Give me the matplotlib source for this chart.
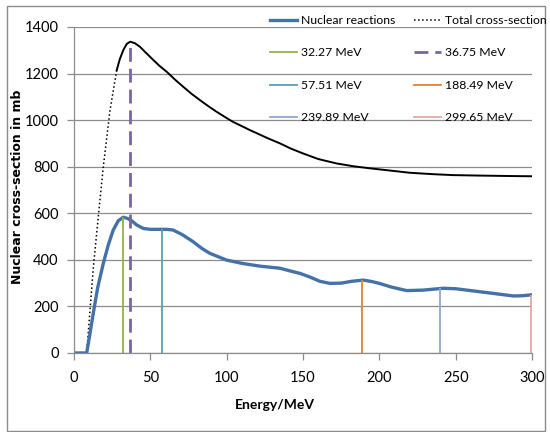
import matplotlib
matplotlib.use("Agg")
import matplotlib.pyplot as plt
from matplotlib.patches import Rectangle
from matplotlib.lines import Line2D

# Total cross-section: sparse rising part (dotted) and dense part (looks solid)
total_rise_e = [0, 8.3, 12.7, 17, 19.2, 23.6, 28]
total_rise_s = [0, 0, 370, 657, 800, 1043, 1215]
total_e = [28, 30, 32.3, 34.5, 36.8, 40, 43.2, 47, 52, 56, 60.7, 66, 71.6, 77, 82.5,
           88, 93.4, 99, 104, 110, 115.3, 121, 127, 135, 142, 150, 160, 172, 183,
           194, 205, 220, 235, 248, 265, 285.5, 300]
total_s = [1215, 1262, 1301, 1327, 1337, 1330, 1315, 1290, 1258, 1233, 1208, 1175, 1143,
           1113, 1086, 1060, 1036, 1013, 993, 974, 957, 940, 922, 900, 878, 857, 833,
           814, 802, 793, 785, 774, 768, 764, 762, 760, 759]

# Nuclear reactions
nuc_e = [0, 8.3, 10.5, 12.6, 15.5, 19.2, 22.5, 25.7, 29, 32.3, 35, 37.8, 41, 45.4, 50,
         56.3, 61, 65, 71, 78, 84, 89, 95, 100, 110, 121.8, 134.9, 143.6, 148, 155,
         161, 167.6, 175, 182, 189.5, 195, 200, 208, 217.9, 228.6, 241.9, 250, 265.9,
         277, 287.7, 294, 300]
nuc_s = [0, 0, 85, 170, 280, 385, 465, 528, 568, 583, 578, 568, 550, 535, 531,
         531, 531, 528, 508, 478, 448, 428, 412, 399, 385, 373, 364, 349, 342, 325,
         308, 299, 300, 308, 313, 307, 299, 283, 268, 270, 278, 276, 263,
         254, 245, 246, 250]

# Marked energies
line_labels = ["32.27 MeV", "36.75 MeV", "57.51 MeV", "188.49 MeV", "239.89 MeV", "299.65 MeV"]
line_e = [32.27, 36.75, 57.51, 188.49, 239.89, 299.65]
line_top = [583, 1335, 531, 313, 278, 249]
line_colors = ["#93B24A", "#7B64A3", "#4FA3BB", "#E8812F", "#8EA9CE", "#E2A8A6"]

txt_font = ["Lato", "DejaVu Sans"]
grid_c = "#8C8C8C"

fig = plt.figure(figsize=(5.5, 4.32), dpi=100)
ax = fig.add_axes([74 / 550, 1 - 353 / 432, 458 / 550, 326 / 432])

ax.set_axisbelow(True)
ax.yaxis.grid(True, color=grid_c, linewidth=0.9)

ax.plot(total_rise_e, total_rise_s, color="black", linestyle=":", linewidth=1.1)
ax.plot(total_e, total_s, color="black", linewidth=1.4)
ax.plot(nuc_e, nuc_s, color="#4472A8", linewidth=2.4)

for i in range(len(line_e)):
    ls = (0, (5, 2.5)) if i == 1 else "-"
    lw = 2.0 if i == 1 else 1.3
    ax.vlines(line_e[i], 0, line_top[i], colors=line_colors[i], linestyles=[ls], linewidth=lw)

ax.set_xlim(0, 300)
ax.set_ylim(0, 1400)
ax.set_xticks(range(0, 301, 50))
ax.set_yticks(range(0, 1401, 200))

for s in ["top", "right"]:
    ax.spines[s].set_visible(False)
for s in ["left", "bottom"]:
    ax.spines[s].set_color(grid_c)
    ax.spines[s].set_linewidth(0.9)
ax.tick_params(axis="both", direction="out", color=grid_c, length=5, width=0.9)
ax.tick_params(axis="x", pad=8)
ax.tick_params(axis="y", pad=6)
for lab in ax.get_xticklabels() + ax.get_yticklabels():
    lab.set_family(txt_font)
    lab.set_fontsize(10.5)

ax.set_xlabel("Energy/MeV", family=txt_font, fontsize=10, fontweight="bold")
ax.xaxis.set_label_coords((275 - 74) / 458, -0.14)
ax.set_ylabel("Nuclear cross-section in mb", family="DejaVu Sans", fontsize=9, fontweight="bold")
ax.yaxis.set_label_coords(-0.11, 0.51)

# legend, filled column by column
h_nuc = Line2D([], [], color="#4472A8", linewidth=2.4)
h_tot = Line2D([], [], color="black", linestyle=":", linewidth=1.1)
h_v = []
for i in range(len(line_e)):
    ls = (0, (5, 2.5)) if i == 1 else "-"
    lw = 2.0 if i == 1 else 1.3
    h_v.append(Line2D([], [], color=line_colors[i], linestyle=ls, linewidth=lw))
handles = [h_nuc, h_v[0], h_v[2], h_v[4], h_tot, h_v[1], h_v[3], h_v[5]]
labels = ["Nuclear reactions", line_labels[0], line_labels[2], line_labels[4],
          "Total cross-section", line_labels[1], line_labels[3], line_labels[5]]
fig.legend(handles, labels, ncol=2, loc="upper left",
           bbox_to_anchor=(270 / 550, 1 - 15 / 432), frameon=False,
           prop={"family": txt_font, "size": 8.8}, handlelength=2.2, handletextpad=0.3,
           columnspacing=1.6, labelspacing=1.75, borderpad=0, borderaxespad=0)

fig.patches.append(Rectangle((7 / 550, 1 / 432), 538 / 550, 425 / 432, transform=fig.transFigure,
                             fill=False, edgecolor="#8C8C8C", linewidth=1.0))

fig.savefig("out.png", dpi=100)
